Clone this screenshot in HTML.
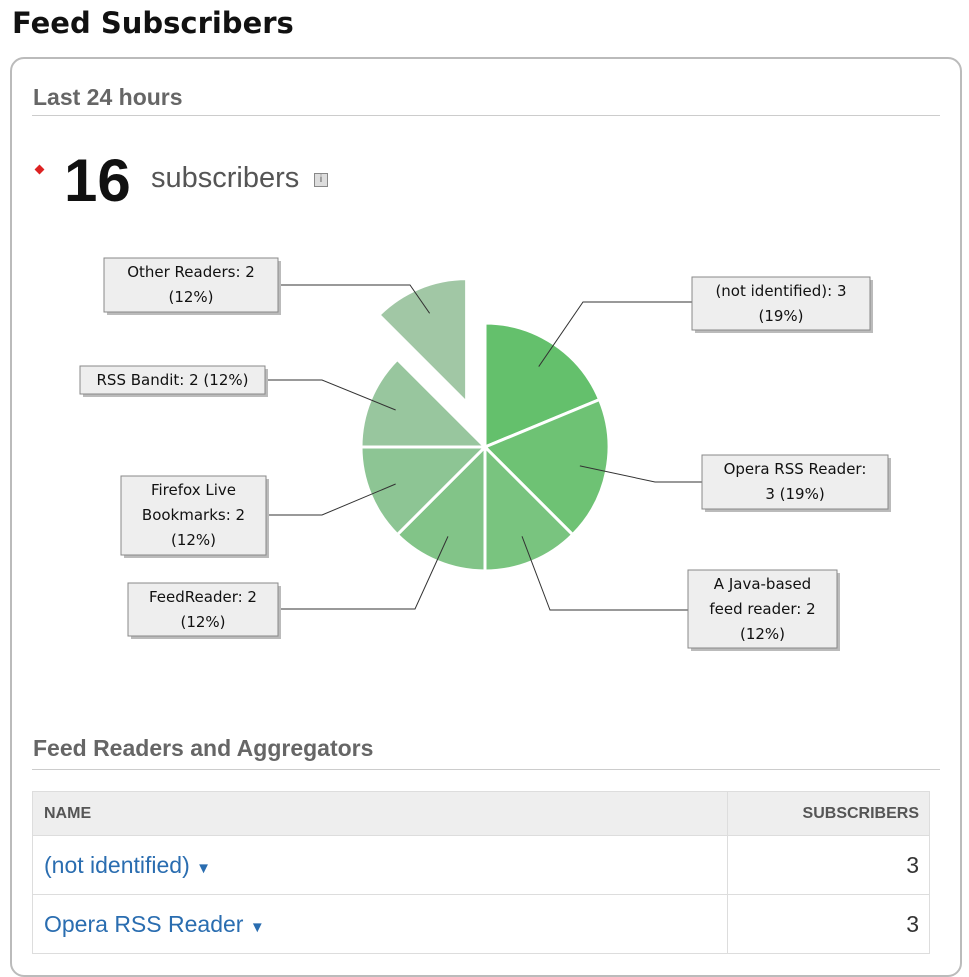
<!DOCTYPE html>
<html><head><meta charset="utf-8"><style>
body{margin:0;width:969px;height:954px;overflow:hidden;background:#fff;font-family:"Liberation Sans",sans-serif;position:relative}
.abs{position:absolute}
#title{left:12px;top:6px;font:bold 29px "DejaVu Sans",sans-serif;color:#111}
#panel{left:10px;top:57px;width:952px;height:920px;border:2px solid #bbb;border-radius:14px;box-sizing:border-box}
.sec{font-weight:bold;font-size:23px;color:#666}
.rule{height:1px;background:#ccc}
table{border-collapse:collapse}
</style></head><body>
<div class="abs" id="title">Feed Subscribers</div>
<div class="abs" id="panel"></div>
<div class="abs sec" style="left:33px;top:84px">Last 24 hours</div>
<div class="abs rule" style="left:32px;top:115px;width:908px"></div>
<div class="abs" style="left:36px;top:166px;width:7px;height:7px;background:#d22;transform:rotate(45deg)"></div>
<div class="abs" style="left:64px;top:146px;font-weight:bold;font-size:60px;color:#111">16</div>
<div class="abs" style="left:151px;top:162px;font-size:29px;color:#555">subscribers</div>
<div class="abs" style="left:314px;top:173px;width:14px;height:14px;border:1px solid #888;background:#ddd;box-sizing:border-box;font-size:10px;line-height:12px;text-align:center;color:#555">i</div>

<svg class="abs" style="left:0;top:0" width="969" height="700" id="chart"></svg>

<div class="abs sec" style="left:33px;top:735px">Feed Readers and Aggregators</div>
<div class="abs rule" style="left:32px;top:769px;width:908px"></div>
<table class="abs" style="left:32px;top:791px;width:898px">
<tr style="height:44px;background:#eee">
<td style="padding-left:11px;font-weight:bold;font-size:16px;color:#555;border:1px solid #ddd">NAME</td>
<td style="width:190px;text-align:right;padding-right:10px;font-weight:bold;font-size:16px;color:#555;border:1px solid #ddd">SUBSCRIBERS</td></tr>
<tr style="height:59px">
<td style="padding-left:11px;font-size:23px;color:#2a6db0;border:1px solid #ddd">(not identified) <span style="font-size:15px">▼</span></td>
<td style="text-align:right;padding-right:10px;font-size:23px;color:#333;border:1px solid #ddd">3</td></tr>
<tr style="height:59px">
<td style="padding-left:11px;font-size:23px;color:#2a6db0;border:1px solid #ddd">Opera RSS Reader <span style="font-size:15px">▼</span></td>
<td style="text-align:right;padding-right:10px;font-size:23px;color:#333;border:1px solid #ddd">3</td></tr>
</table>

<script>
const categories=["(not identified)","Opera RSS Reader","A Java-based feed reader","FeedReader","Firefox Live Bookmarks","RSS Bandit","Other Readers"];
const values=[3,3,2,2,2,2,2];
const percentLabels=["19%","19%","12%","12%","12%","12%","12%"];
const labelLines=[["(not identified): 3","(19%)"],["Opera RSS Reader:","3 (19%)"],["A Java-based","feed reader: 2","(12%)"],["FeedReader: 2","(12%)"],["Firefox Live","Bookmarks: 2","(12%)"],["RSS Bandit: 2 (12%)"],["Other Readers: 2","(12%)"]];
const colors=["#64c06c","#6ec274","#79c47f","#82c488","#8dc594","#98c69e","#a1c7a5"];
const boxes=[[692,277,178,53],[702,455,186,54],[688,570,149,78],[128,583,150,53],[121,476,145,79],[80,366,185,28],[104,258,174,54]];
const anchors=[[692,302,583],[702,482,655],[688,610,550],[278,609,415],[266,515,322],[265,380,322],[278,285,410]];
const svg=document.getElementById('chart');const NS='http://www.w3.org/2000/svg';
const cx=485,cy=447,R=124;
const total=values.reduce((a,b)=>a+b,0);
function pt(a,r,ox,oy){return [ox+r*Math.sin(a),oy-r*Math.cos(a)];}
let a0=0;
values.forEach((v,i)=>{
 const a1=a0+v/total*2*Math.PI, mid=(a0+a1)/2;
 const off=i===values.length-1?48:0;
 const ox=cx+off*Math.sin(mid), oy=cy-off*Math.cos(mid);
 const p0=pt(a0,R,ox,oy),p1=pt(a1,R,ox,oy);
 const path=document.createElementNS(NS,'path');
 path.setAttribute('d',`M${ox},${oy}L${p0[0]},${p0[1]}A${R},${R} 0 ${a1-a0>Math.PI?1:0} 1 ${p1[0]},${p1[1]}Z`);
 path.setAttribute('fill',colors[i]);path.setAttribute('stroke','#fff');path.setAttribute('stroke-width','3');
 
 
 svg.appendChild(path);
 const inner=pt(mid,R*0.78,ox,oy);
 const an=anchors[i];
 const ln=document.createElementNS(NS,'polyline');
 ln.setAttribute('points',`${an[0]},${an[1]} ${an[2]},${an[1]} ${inner[0]},${inner[1]}`);
 ln.setAttribute('fill','none');ln.setAttribute('stroke','#333');ln.setAttribute('stroke-width','1');
 
 
 svg.appendChild(ln);
 const b=boxes[i];
 const sh=document.createElementNS(NS,'rect');
 sh.setAttribute('x',b[0]+3);sh.setAttribute('y',b[1]+3);sh.setAttribute('width',b[2]);sh.setAttribute('height',b[3]);sh.setAttribute('fill','#bbb');
 
 
 svg.appendChild(sh);
 const rc=document.createElementNS(NS,'rect');
 rc.setAttribute('x',b[0]);rc.setAttribute('y',b[1]);rc.setAttribute('width',b[2]);rc.setAttribute('height',b[3]);
 rc.setAttribute('fill','#eee');rc.setAttribute('stroke','#888');
 
 
 svg.appendChild(rc);
 const lines=labelLines[i];
 lines.forEach((t,k)=>{
  const tx=document.createElementNS(NS,'text');
  tx.setAttribute('x',b[0]+b[2]/2);tx.setAttribute('y',b[1]+19+k*25);
  tx.setAttribute('text-anchor','middle');tx.setAttribute('font-family','DejaVu Sans, sans-serif');tx.setAttribute('font-size','15');tx.setAttribute('fill','#111');
  tx.textContent=t;
  
  
  svg.appendChild(tx);
 });
 a0=a1;
});
</script>
</body></html>
